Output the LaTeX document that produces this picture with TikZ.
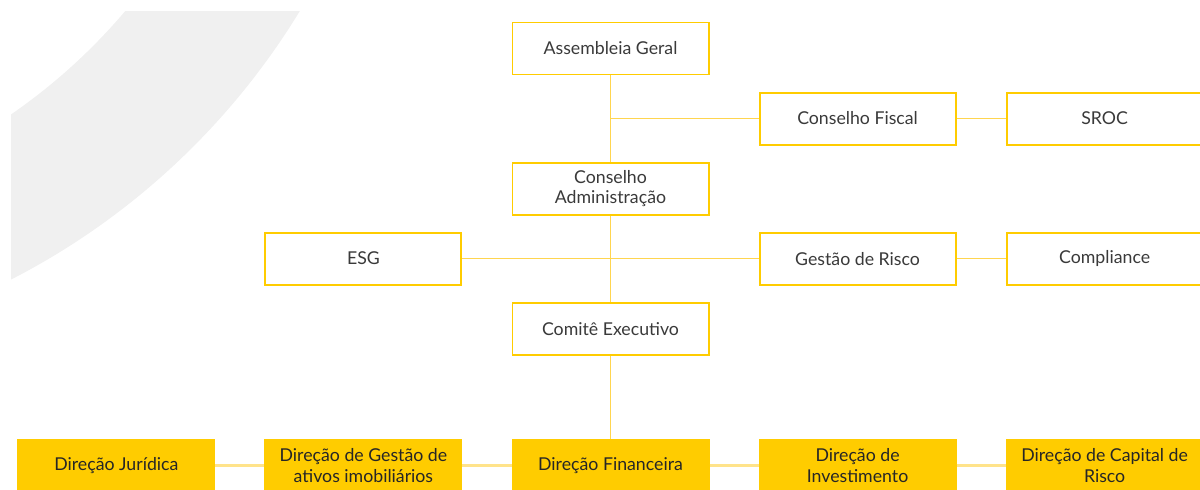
\documentclass[tikz,border=0pt]{standalone}
\usepackage{fontspec}
\setmainfont{Lato}
\usetikzlibrary{positioning}
\definecolor{amarelo}{HTML}{FFCC00}
\definecolor{linha}{HTML}{FFD54F}
\definecolor{linhaclara}{HTML}{FFE38A}
\definecolor{cinza}{HTML}{3A3A3A}
\definecolor{fundo}{HTML}{F0F0F0}

\begin{document}
\begin{tikzpicture}[x=0.025cm, y=-0.025cm, node distance=6.175cm,
    box/.style={draw=amarelo, line width=1.4pt, fill=white, minimum width=4.9cm, minimum height=1.3cm,
        inner sep=1pt, align=center, text=cinza, font=\fontsize{12.6}{14.6}\selectfont},
    dir/.style={box, fill=amarelo, text=black!85},
    link/.style={draw=linha, line width=0.7pt},
    dirlink/.style={draw=linhaclara, line width=1.8pt}]
    \useasboundingbox (0,0) rectangle (1200,489);

    % Background arc
    \begin{scope}
        \clip (11,11) rectangle (400,400);
        \fill[fundo, even odd rule] (-319,-365) circle[radius=724] (-319,-365) circle[radius=582];
    \end{scope}

    % Nodes
    \node[box] (ag) at (610.5,48.5) {Assembleia Geral};
    \node[box, below of=ag, node distance=3.5cm] (ca) {Conselho\\Administração};
    \node[box, below of=ca, node distance=3.5cm] (ce) {Comitê Executivo};
    \coordinate[below of=ag, node distance=1.75cm] (j1);
    \coordinate[below of=ca, node distance=1.75cm] (j2);
    \node[box, right of=j1] (cf) {Conselho Fiscal};
    \node[box, right of=cf] (sroc) {SROC};
    \node[box, right of=j2] (gr) {Gestão de Risco};
    \node[box, right of=gr] (comp) {Compliance};
    \node[box, left of=j2] (esg) {ESG};
    \node[dir, below of=ce, node distance=3.425cm] (fin) {Direção Financeira};
    \node[dir, right of=fin] (inv) {Direção de\\Investimento};
    \node[dir, right of=inv] (cap) {Direção de Capital de\\Risco};
    \node[dir, left of=fin] (gest) {Direção de Gestão de\\ativos imobiliários};
    \node[dir, left of=gest] (jur) {Direção Jurídica};

    % Connections
    \draw[link] (ag) -- (ca);
    \draw[link] (j1) -- (cf);
    \draw[link] (cf) -- (sroc);
    \draw[link] (ca) -- (ce);
    \draw[link] (esg) -- (gr);
    \draw[link] (gr) -- (comp);
    \draw[link] (ce) -- (fin);
    \draw[dirlink] (jur) -- (gest);
    \draw[dirlink] (gest) -- (fin);
    \draw[dirlink] (fin) -- (inv);
    \draw[dirlink] (inv) -- (cap);
\end{tikzpicture}
\end{document}
